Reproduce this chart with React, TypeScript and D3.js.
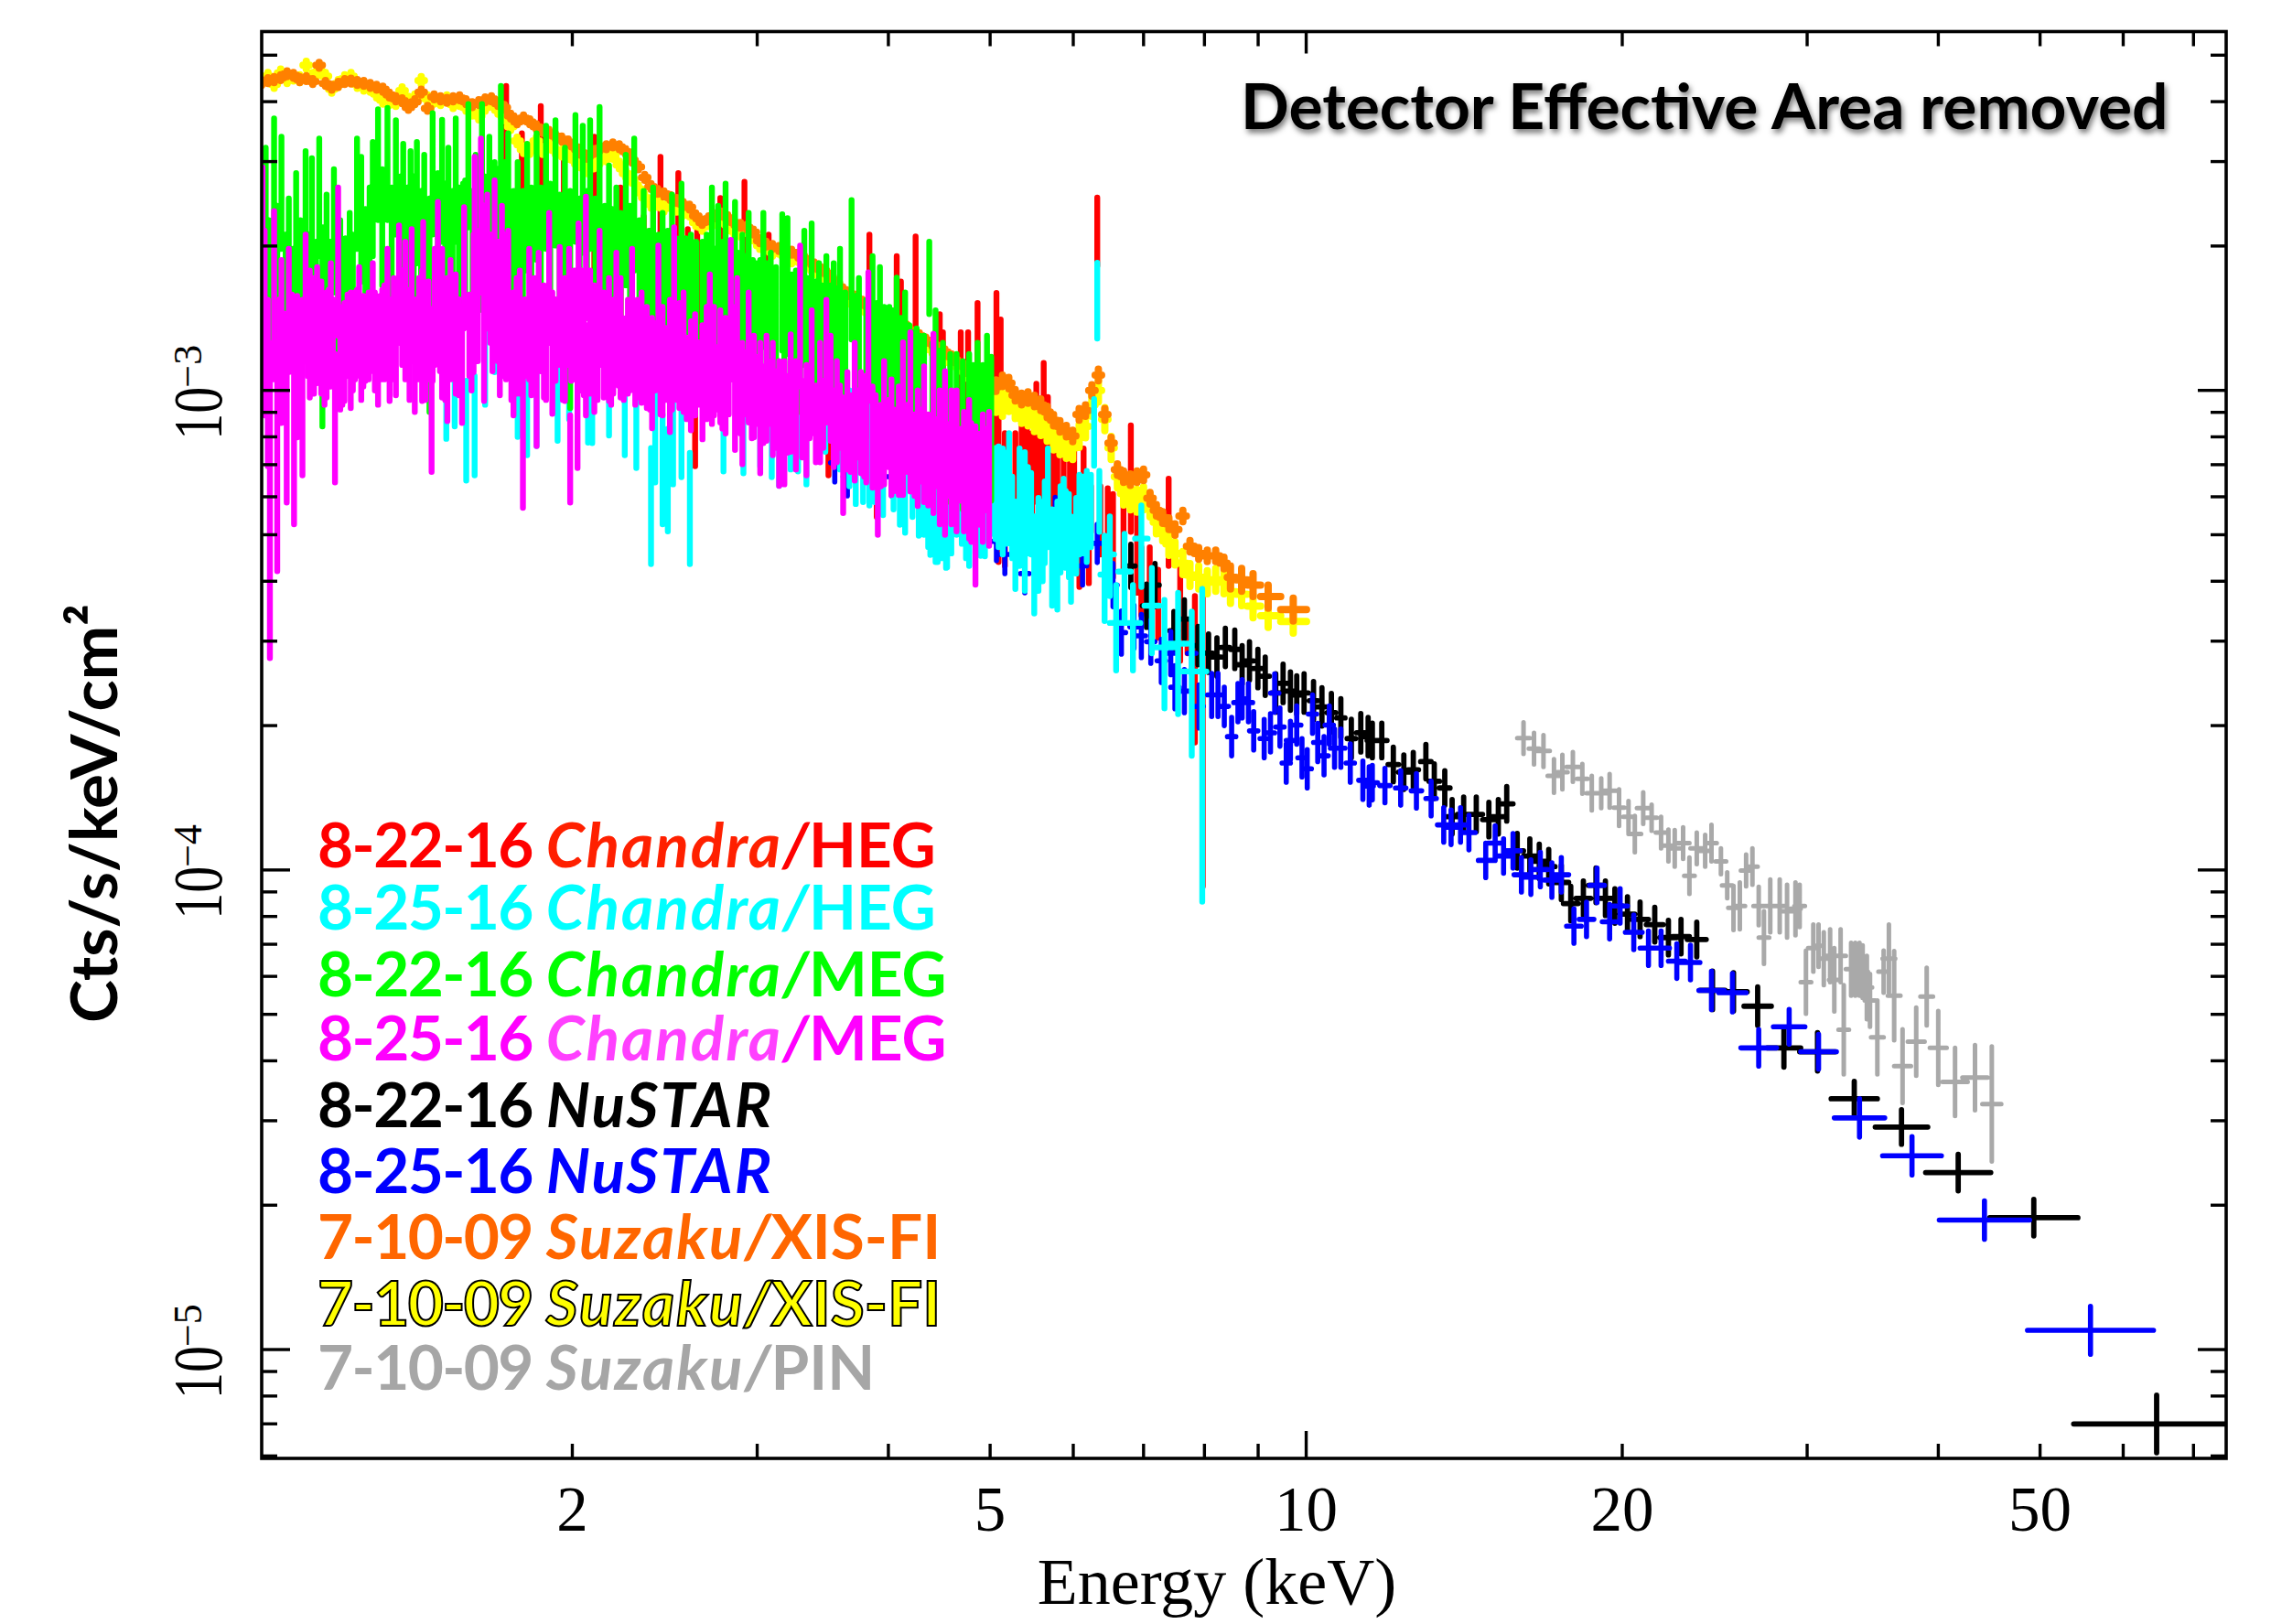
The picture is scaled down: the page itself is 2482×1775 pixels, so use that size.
import React from "react";
import * as d3 from "d3";

// All fluxes are log10(Cts/s/keV/cm2); all energies in the bar tables are log10(keV).
// Chandra bars: [log10 E, log10 flux upper, log10 flux lower]
type Bar = [number, number, number];
const megGreen: Bar[] = [
[.006,-2.539,-2.901],[.009,-2.494,-2.735],[.012,-2.645,-2.958],[.017,-2.433,-2.675],[.020,-2.615,-2.886],[.024,-2.471,-2.705],[.028,-2.675,-2.917],[.031,-2.600,-2.826],[.035,-2.705,-2.939],[.038,-2.547,-2.811],[.042,-2.645,-2.901],[.047,-2.501,-2.743],[.050,-2.675,-2.924],[.053,-2.516,-2.766],[.057,-2.690,-2.939],[.060,-2.475,-2.720],[.063,-2.660,-3.075],[.067,-2.592,-2.841],[.070,-2.690,-2.947],[.074,-2.539,-2.796],[.078,-2.705,-2.947],[.080,-2.645,-2.901],[.085,-2.683,-2.917],[.089,-2.630,-2.871],[.092,-2.675,-2.924],[.096,-2.475,-2.705],[.100,-2.513,-2.773],[.104,-2.622,-2.864],[.108,-2.577,-2.818],[.111,-2.482,-2.720],[.116,-2.414,-2.645],[.120,-2.539,-2.781],[.125,-2.411,-2.645],[.129,-2.577,-2.826],[.133,-2.437,-2.675],[.137,-2.554,-2.811],[.140,-2.486,-2.735],[.144,-2.577,-2.826],[.147,-2.501,-2.750],[.150,-2.554,-2.803],[.153,-2.482,-2.735],[.157,-2.584,-2.826],[.160,-2.509,-2.766],[.165,-2.600,-3.045],[.168,-2.422,-2.675],[.173,-2.547,-2.811],[.177,-2.436,-2.690],[.180,-2.569,-2.826],[.183,-2.494,-2.750],[.187,-2.584,-2.841],[.190,-2.433,-2.690],[.193,-2.577,-2.833],[.197,-2.569,-2.826],[.199,-2.562,-2.818],[.202,-2.403,-2.660],[.206,-2.584,-2.841],[.209,-2.509,-2.766],[.212,-2.577,-2.833],[.215,-2.403,-2.660],[.218,-2.554,-2.811],[.222,-2.471,-2.728],[.227,-2.524,-2.781],[.230,-2.539,-2.811],[.233,-2.365,-2.615],[.237,-2.524,-2.788],[.240,-2.464,-2.720],[.245,-2.584,-2.841],[.249,-2.524,-2.781],[.254,-2.584,-2.841],[.258,-2.486,-2.750],[.262,-2.577,-2.841],[.267,-2.464,-2.728],[.271,-2.577,-2.841],[.276,-2.448,-2.705],[.280,-2.569,-2.826],[.285,-2.437,-2.698],[.289,-2.592,-2.849],[.294,-2.494,-2.758],[.299,-2.584,-3.037],[.304,-2.426,-2.690],[.308,-2.600,-2.864],[.311,-2.448,-2.713],[.315,-2.584,-2.849],[.318,-2.437,-2.705],[.323,-2.600,-2.864],[.327,-2.409,-2.675],[.332,-2.615,-2.879],[.336,-2.531,-2.796],[.339,-2.622,-2.886],[.343,-2.577,-2.841],[.347,-2.630,-2.901],[.352,-2.509,-2.781],[.356,-2.615,-2.886],[.360,-2.475,-2.750],[.365,-2.645,-2.917],[.369,-2.584,-2.864],[.374,-2.667,-2.947],[.378,-2.577,-2.856],[.383,-2.675,-2.939],[.387,-2.630,-2.909],[.392,-2.667,-2.954],[.396,-2.592,-2.871],[.400,-2.683,-2.962],[.405,-2.569,-2.849],[.409,-2.683,-2.962],[.414,-2.675,-2.954],[.419,-2.690,-2.969],[.425,-2.690,-2.969],[.429,-2.675,-2.954],[.434,-2.577,-2.856],[.437,-2.705,-2.977],[.440,-2.615,-2.886],[.444,-2.690,-2.969],[.447,-2.569,-2.849],[.452,-2.705,-2.977],[.456,-2.607,-2.886],[.459,-2.713,-2.992],[.463,-2.675,-2.947],[.466,-2.720,-2.999],[.469,-2.630,-2.909],[.473,-2.728,-3.007],[.476,-2.735,-3.015],[.480,-2.728,-3.007],[.483,-2.630,-2.909],[.486,-2.735,-3.015],[.490,-2.713,-2.992],[.495,-2.743,-3.022],[.501,-2.633,-2.917],[.503,-2.750,-3.037],[.506,-2.641,-2.924],[.510,-2.758,-3.037],[.514,-2.750,-3.037],[.518,-2.766,-3.045],[.522,-2.667,-2.947],[.525,-2.766,-3.045],[.529,-2.652,-2.939],[.533,-2.773,-3.052],[.536,-2.735,-3.022],[.539,-2.781,-3.060],[.543,-2.720,-3.007],[.547,-2.781,-3.067],[.550,-2.735,-3.022],[.553,-2.788,-3.075],[.556,-2.705,-2.992],[.561,-2.796,-3.082],[.567,-2.603,-2.894],[.571,-2.803,-3.090],[.574,-2.766,-3.052],[.581,-2.811,-3.097],[.587,-2.720,-3.015],[.591,-2.818,-3.105],[.594,-2.743,-3.037],[.598,-2.826,-3.120],[.603,-2.826,-3.120],[.606,-2.833,-3.128],[.610,-2.765,-3.060],[.614,-2.849,-3.143],[.618,-2.796,-3.090],[.622,-2.864,-3.158],[.625,-2.879,-3.173],[.629,-2.871,-3.165],[.632,-2.886,-3.181],[.636,-2.886,-3.188],[.641,-2.690,-2.841],[.644,-2.901,-3.203],[.647,-2.833,-3.128],[.651,-2.917,-3.218],[.654,-2.901,-3.203],[.661,-2.924,-3.233],[.667,-2.924,-3.233],[.673,-2.939,-3.248],[.679,-2.924,-3.233],[.683,-2.947,-3.248],[.687,-2.901,-3.203],[.692,-2.947,-3.248],[.696,-2.886,-3.188],[.700,-2.930,-3.230]];

const megMagenta: Bar[] = [
[.006,-2.535,-2.977],[.008,-2.667,-3.052],[.011,-2.811,-3.158],[.013,-2.901,-3.558],[.017,-2.626,-2.977],[.020,-2.901,-3.377],[.024,-2.728,-3.068],[.029,-2.901,-3.234],[.031,-2.705,-2.962],[.036,-2.826,-3.279],[.039,-2.803,-3.098],[.044,-2.811,-3.177],[.047,-2.675,-2.939],[.051,-2.750,-3.015],[.055,-2.766,-3.007],[.058,-2.743,-2.985],[.062,-2.773,-3.007],[.067,-2.796,-3.015],[.071,-2.735,-2.992],[.075,-2.924,-3.192],[.078,-2.577,-2.886],[.082,-2.826,-3.030],[.084,-2.818,-3.022],[.090,-2.796,-3.037],[.094,-2.796,-2.977],[.098,-2.743,-2.969],[.102,-2.803,-2.992],[.107,-2.796,-2.977],[.111,-2.735,-2.954],[.113,-2.796,-3.000],[.118,-2.803,-2.977],[.122,-2.781,-2.977],[.125,-2.705,-2.947],[.127,-2.818,-3.022],[.131,-2.766,-2.977],[.136,-2.656,-2.901],[.139,-2.750,-2.947],[.142,-2.690,-2.977],[.148,-2.664,-2.939],[.151,-2.811,-3.045],[.155,-2.766,-2.977],[.158,-2.750,-3.022],[.159,-2.649,-2.894],[.164,-2.773,-2.977],[.167,-2.939,-3.170],[.170,-2.705,-2.947],[.173,-2.607,-2.864],[.177,-2.705,-3.015],[.182,-2.766,-3.064],[.185,-2.728,-2.977],[.190,-2.758,-3.007],[.196,-2.826,-3.068],[.198,-2.618,-2.871],[.208,-2.513,-2.826],[.207,-2.675,-2.962],[.211,-2.668,-2.939],[.214,-2.475,-2.796],[.217,-2.615,-3.022],[.220,-2.592,-2.871],[.223,-2.675,-2.901],[.227,-2.562,-2.856],[.230,-2.690,-2.939],[.234,-2.615,-2.886],[.238,-2.675,-2.977],[.240,-2.667,-2.939],[.245,-2.796,-3.052],[.248,-2.766,-3.007],[.251,-2.750,-3.007],[.254,-2.977,-3.245],[.260,-2.705,-2.977],[.265,-2.766,-3.007],[.267,-2.826,-3.116],[.269,-2.713,-2.947],[.274,-2.781,-3.015],[.279,-2.630,-2.901],[.282,-2.796,-3.049],[.289,-2.701,-2.947],[.294,-2.766,-3.022],[.298,-2.705,-2.947],[.299,-3.052,-3.234],[.303,-2.750,-2.977],[.306,-2.901,-3.162],[.307,-2.652,-2.901],[.310,-2.750,-3.000],[.314,-2.596,-2.849],[.314,-2.864,-3.052],[.318,-2.750,-3.007],[.322,-2.781,-3.045],[.327,-2.667,-2.947],[.331,-2.796,-3.015],[.336,-2.766,-3.022],[.340,-2.811,-3.007],[.343,-2.713,-2.947],[.347,-2.766,-3.015],[.354,-2.811,-3.007],[.358,-2.705,-2.977],[.363,-2.811,-3.015],[.367,-2.796,-3.026],[.372,-2.826,-3.037],[.377,-2.849,-3.079],[.383,-2.698,-2.977],[.387,-2.826,-3.052],[.394,-2.811,-3.087],[.398,-2.660,-2.932],[.403,-2.818,-3.037],[.407,-2.796,-3.045],[.414,-2.856,-3.083],[.418,-2.841,-3.052],[.425,-2.864,-3.102],[.429,-2.826,-3.060],[.432,-2.758,-3.007],[.436,-2.826,-3.052],[.442,-2.833,-3.067],[.447,-2.849,-3.090],[.452,-2.686,-2.977],[.456,-2.826,-3.124],[.458,-2.766,-3.037],[.463,-2.901,-3.154],[.469,-2.796,-3.067],[.474,-2.886,-3.098],[.480,-2.901,-3.173],[.486,-2.886,-3.105],[.492,-2.901,-3.135],[.498,-2.939,-3.199],[.503,-2.939,-3.196],[.509,-2.883,-3.128],[.514,-2.939,-3.165],[.518,-2.698,-2.992],[.524,-2.947,-3.177],[.529,-2.833,-3.090],[.537,-2.901,-3.150],[.543,-2.811,-3.067],[.547,-2.886,-3.105],[.553,-2.939,-3.150],[.559,-3.015,-3.256],[.563,-2.962,-3.165],[.570,-2.901,-3.188],[.576,-2.962,-3.173],[.581,-2.969,-3.192],[.583,-2.754,-3.022],[.587,-2.992,-3.203],[.592,-3.052,-3.301],[.598,-2.939,-3.196],[.605,-2.977,-3.218],[.612,-2.992,-3.218],[.616,-2.900,-3.218],[.623,-2.879,-3.211],[.630,-3.000,-3.241],[.636,-2.950,-3.233],[.645,-2.882,-3.256],[.651,-3.000,-3.279],[.656,-2.960,-3.301],[.662,-3.000,-3.279],[.667,-3.000,-3.294],[.674,-3.045,-3.294],[.679,-3.020,-3.309],[.681,-3.068,-3.316],[.685,-3.075,-3.405],[.692,-3.050,-3.316],[.698,-3.045,-3.324]];

// Densely overlapping bars that make up the solid core of the 8-25-16 MEG band
const megMagentaCore: Bar[] = [
[.010,-2.83,-3.00],[.022,-2.81,-2.98],[.027,-2.84,-3.02],[.034,-2.80,-2.96],[.041,-2.82,-3.01],[.049,-2.79,-2.97],[.053,-2.83,-3.00],[.060,-2.80,-2.95],[.065,-2.82,-3.03],[.069,-2.79,-2.98],[.073,-2.81,-2.96],[.080,-2.83,-3.04],[.087,-2.80,-2.97],[.092,-2.82,-3.00],[.096,-2.79,-2.95],[.100,-2.81,-3.02],[.104,-2.83,-2.98],[.109,-2.80,-2.96],[.116,-2.82,-3.03],[.120,-2.79,-2.97],[.129,-2.81,-2.95],[.133,-2.80,-3.01],[.144,-2.82,-2.97],[.146,-2.79,-3.02],[.153,-2.81,-2.96],[.161,-2.80,-3.02],[.168,-2.83,-2.98],[.175,-2.80,-2.96],[.180,-2.82,-3.02],[.187,-2.79,-2.97],[.193,-2.81,-3.01],[.203,-2.80,-2.97],[.205,-2.82,-3.00],[.225,-2.81,-2.96],[.232,-2.80,-3.01],[.236,-2.82,-2.97],[.243,-2.80,-3.02],[.256,-2.81,-2.97],[.262,-2.82,-3.01],[.271,-2.81,-2.96],[.276,-2.83,-3.02],[.285,-2.81,-2.98],[.292,-2.84,-3.02],[.300,-2.82,-2.98],[.312,-2.82,-3.01],[.320,-2.83,-2.97],[.325,-2.84,-3.02],[.333,-2.82,-2.98],[.338,-2.85,-3.03],[.345,-2.83,-2.99],[.350,-2.85,-3.02],[.356,-2.84,-3.00],[.361,-2.86,-3.03],[.369,-2.85,-3.01],[.375,-2.87,-3.04],[.380,-2.86,-3.00],[.385,-2.88,-3.05],[.390,-2.87,-3.02],[.396,-2.89,-3.04],[.401,-2.88,-3.02],[.410,-2.89,-3.06],[.421,-2.90,-3.03],[.434,-2.90,-3.07],[.439,-2.91,-3.04],[.444,-2.92,-3.08],[.450,-2.91,-3.05],[.461,-2.93,-3.09],[.466,-2.92,-3.05],[.472,-2.94,-3.10],[.478,-2.93,-3.07],[.483,-2.95,-3.11],[.489,-2.94,-3.07],[.495,-2.96,-3.12],[.501,-2.95,-3.09],[.506,-2.97,-3.13],[.512,-2.96,-3.09],[.520,-2.98,-3.14],[.527,-2.97,-3.10],[.533,-2.99,-3.15],[.540,-2.98,-3.12],[.550,-3.00,-3.16],[.556,-2.99,-3.12],[.566,-3.01,-3.17],[.573,-3.00,-3.14],[.579,-3.02,-3.18],[.590,-3.01,-3.15],[.595,-3.03,-3.20],[.602,-3.02,-3.16],[.608,-3.04,-3.21],[.620,-3.03,-3.17],[.627,-3.05,-3.22],[.633,-3.04,-3.19],[.640,-3.05,-3.24],[.648,-3.06,-3.20],[.654,-3.05,-3.25],[.660,-3.07,-3.22],[.665,-3.06,-3.26],[.671,-3.08,-3.23],[.677,-3.07,-3.27],[.683,-3.08,-3.24],[.689,-3.09,-3.28],[.695,-3.08,-3.25]];

const hegRed: Bar[] = [
[.238,-2.365,-2.64],[.253,-2.464,-2.76],[.271,-2.407,-2.70],[.293,-2.509,-2.80],[.322,-2.471,-2.78],[.347,-2.577,-2.85],[.369,-2.637,-2.90],[.385,-2.513,-2.82],[.402,-2.547,-2.84],[.411,-2.664,-2.95],[.418,-2.900,-3.158],[.420,-2.667,-2.93],[.442,-2.599,-2.89],[.465,-2.565,-2.87],[.488,-2.675,-2.98],[.516,-2.750,-3.03],[.545,-2.950,-3.177],[.551,-2.864,-3.14],[.584,-2.675,-2.96],[.591,-3.000,-3.264],[.610,-2.720,-3.02],[.614,-2.773,-3.07],[.628,-2.679,-2.95],[.651,-2.841,-3.10],[.654,-2.879,-3.14],[.671,-2.879,-3.15],[.678,-2.879,-3.17],[.687,-2.818,-3.12],[.705,-2.797,-3.05],
[.703,-3.058,-3.279],[.707,-3.042,-3.358],[.709,-2.852,-3.05],[.713,-3.089,-3.366],[.717,-3.097,-3.295],[.723,-3.089,-3.342],[.729,-3.058,-3.295],[.734,-3.066,-3.327],[.739,-3.089,-3.263],[.743,-2.986,-3.232],[.748,-3.058,-3.263],[.750,-2.943,-3.200],[.754,-3.014,-3.248],[.759,-3.097,-3.303],[.763,-3.113,-3.295],[.769,-3.113,-3.327],[.775,-3.121,-3.311],[.779,-3.121,-3.374],[.784,-3.224,-3.410],[.788,-3.121,-3.327],[.793,-3.232,-3.402],[.795,-3.200,-3.295],[.801,-2.598,-2.74],[.804,-3.200,-3.342],[.811,-3.204,-3.342],[.816,-3.216,-3.390],[.826,-3.240,-3.374],[.833,-3.073,-3.295],[.839,-3.224,-3.422],[.843,-3.327,-3.469],[.851,-3.327,-3.485],[.859,-3.374,-3.516],[.869,-3.184,-3.366],[.880,-3.366,-3.564],[.887,-3.485,-3.548],[.894,-3.429,-3.734],[.9015,-3.414,-4.034]];

const hegCyan: Bar[] = [
[.181,-2.90,-3.101],[.189,-2.88,-3.075],[.200,-2.98,-3.188],[.208,-2.97,-3.177],[.218,-2.85,-3.030],[.227,-2.80,-2.962],[.249,-2.90,-3.097],[.258,-2.94,-3.135],[.267,-2.92,-3.116],[.287,-2.90,-3.105],[.298,-2.88,-3.060],[.316,-2.90,-3.109],[.320,-2.92,-3.110],[.336,-2.88,-3.094],[.351,-2.93,-3.135],[.362,-2.95,-3.162],[.376,-3.12,-3.362],[.380,-2.98,-3.192],[.387,-3.05,-3.279],[.392,-3.08,-3.294],[.397,-2.98,-3.196],[.405,-2.97,-3.181],[.413,-3.13,-3.362],[.445,-2.96,-3.169],[.464,-2.97,-3.173],[.480,-2.95,-3.158],[.491,-2.98,-3.181],[.498,-2.99,-3.199],[.509,-2.96,-3.165],[.516,-2.97,-3.169],[.524,-3.00,-3.196],[.542,-2.93,-3.128],[.556,-2.97,-3.165],[.565,-3.00,-3.20],[.571,-3.03,-3.237],[.578,-3.03,-3.233],[.584,-3.03,-3.24],[.589,-3.03,-3.233],[.597,-3.05,-3.26],[.607,-3.05,-3.248],[.613,-3.09,-3.28],[.618,-3.10,-3.297],[.625,-3.06,-3.264],[.636,-3.10,-3.301],[.642,-3.14,-3.343],[.649,-3.16,-3.358],[.653,-3.14,-3.350],[.658,-3.17,-3.369],[.662,-3.14,-3.340],[.667,-3.10,-3.301],[.672,-3.12,-3.320],[.680,-3.11,-3.309],
[.631,-3.10,-3.303],[.640,-3.13,-3.327],[.647,-3.16,-3.358],[.657,-3.17,-3.370],[.676,-3.15,-3.350],[.679,-3.17,-3.366],[.685,-3.14,-3.340],[.690,-3.15,-3.345],[.694,-3.15,-3.346],[.699,-3.10,-3.30],
[.704,-3.120,-3.310],[.707,-3.117,-3.327],[.711,-3.121,-3.342],[.714,-3.130,-3.320],[.717,-3.089,-3.319],[.720,-3.180,-3.350],[.723,-3.232,-3.414],[.727,-3.121,-3.366],[.732,-3.129,-3.418],[.735,-3.160,-3.340],[.738,-3.172,-3.342],[.741,-3.263,-3.465],[.745,-3.224,-3.418],[.749,-3.232,-3.398],[.751,-3.190,-3.360],[.754,-3.121,-3.327],[.758,-3.248,-3.449],[.763,-3.232,-3.457],[.766,-3.200,-3.380],[.769,-3.184,-3.358],[.771,-3.210,-3.370],[.774,-3.216,-3.390],[.776,-3.263,-3.441],[.781,-3.224,-3.382],[.784,-3.176,-3.342],[.788,-3.180,-3.340],[.791,-3.168,-3.358],[.795,-3.176,-3.327],[.798,-3.018,-3.157],[.801,-2.734,-2.892],[.803,-3.168,-3.295]];
// High-energy HEG 8-25-16 bins with a centre: [log10 E, centre, upper, lower, half width dex]
const hegCyanCross: [number, number, number, number, number][] = [
[.808,-3.384,-3.303,-3.481,.004],[.813,-3.342,-3.263,-3.429,.004],[.819,-3.485,-3.406,-3.584,.006],[.827,-3.378,-3.299,-3.477,.006],[.835,-3.485,-3.406,-3.584,.007],[.843,-3.309,-3.240,-3.410,.006],[.853,-3.449,-3.370,-3.548,.007],[.865,-3.536,-3.437,-3.663,.009],[.878,-3.528,-3.422,-3.675,.009],[.891,-3.586,-3.461,-3.762,.012],[.901,-3.586,-3.414,-4.066,.004]];

// XIS rows: [E keV, XIS orange log10 flux, XIS yellow log10 flux]
const xisRows: [number, number, number][] = [
[1.012,-2.358,-2.352],[1.026,-2.354,-2.345],[1.04,-2.352,-2.362],[1.055,-2.348,-2.338],[1.07,-2.340,-2.352],[1.085,-2.343,-2.347],[1.10,-2.352,-2.350],[1.116,-2.350,-2.322],[1.132,-2.356,-2.345],[1.148,-2.322,-2.335],[1.164,-2.360,-2.345],[1.18,-2.368,-2.372],[1.197,-2.362,-2.360],[1.214,-2.356,-2.350],[1.231,-2.355,-2.345],[1.248,-2.358,-2.362],[1.266,-2.360,-2.368],[1.284,-2.364,-2.370],[1.302,-2.368,-2.382],[1.32,-2.372,-2.395],[1.339,-2.384,-2.398],[1.358,-2.392,-2.400],[1.377,-2.396,-2.375],[1.396,-2.410,-2.395],[1.416,-2.398,-2.390],[1.436,-2.378,-2.354],[1.456,-2.412,-2.392],[1.477,-2.388,-2.395],[1.498,-2.392,-2.398],[1.519,-2.395,-2.392],[1.54,-2.392,-2.404],[1.562,-2.390,-2.400],[1.584,-2.398,-2.410],[1.606,-2.404,-2.420],[1.629,-2.400,-2.428],[1.652,-2.394,-2.410],[1.675,-2.392,-2.400],[1.699,-2.402,-2.416],[1.723,-2.410,-2.430],[1.747,-2.428,-2.450],[1.772,-2.440,-2.480],[1.797,-2.432,-2.498],[1.822,-2.440,-2.500],[1.848,-2.450,-2.480],[1.874,-2.458,-2.500],[1.9,-2.462,-2.490],[1.927,-2.470,-2.500],[1.954,-2.476,-2.505],[1.982,-2.482,-2.510],[2.01,-2.492,-2.520],[2.038,-2.504,-2.528],[2.067,-2.512,-2.540],[2.096,-2.502,-2.530],[2.125,-2.495,-2.520],[2.155,-2.492,-2.515],[2.186,-2.488,-2.510],[2.217,-2.492,-2.530],[2.248,-2.502,-2.548],[2.28,-2.520,-2.560],[2.312,-2.534,-2.580],[2.344,-2.556,-2.598],[2.377,-2.575,-2.612],[2.411,-2.585,-2.610],[2.445,-2.590,-2.620],[2.479,-2.598,-2.612],[2.514,-2.604,-2.620],[2.55,-2.612,-2.628],[2.586,-2.618,-2.630],[2.622,-2.636,-2.650],[2.659,-2.650,-2.660],[2.697,-2.642,-2.650],[2.735,-2.636,-2.648],[2.773,-2.632,-2.640],[2.812,-2.640,-2.655],[2.852,-2.650,-2.668],[2.892,-2.656,-2.672],[2.933,-2.660,-2.665],[2.975,-2.670,-2.680],[3.017,-2.688,-2.698],[3.059,-2.695,-2.700],[3.102,-2.700,-2.712],[3.146,-2.704,-2.708],[3.19,-2.708,-2.720],[3.235,-2.712,-2.728],[3.281,-2.718,-2.725],[3.327,-2.725,-2.735],[3.374,-2.732,-2.742],[3.422,-2.742,-2.752],[3.47,-2.750,-2.760],[3.519,-2.762,-2.780],[3.569,-2.776,-2.790],[3.619,-2.790,-2.800],[3.67,-2.798,-2.812],[3.722,-2.806,-2.815],[3.774,-2.816,-2.825],[3.827,-2.824,-2.838],[3.881,-2.830,-2.842],[3.936,-2.836,-2.850],[3.992,-2.846,-2.855],[4.048,-2.850,-2.862],[4.105,-2.858,-2.870],[4.163,-2.868,-2.880],[4.222,-2.880,-2.890],[4.281,-2.886,-2.896],[4.342,-2.895,-2.905],[4.403,-2.902,-2.915],[4.465,-2.912,-2.920],[4.528,-2.920,-2.930],[4.592,-2.930,-2.942],[4.657,-2.942,-2.950],[4.722,-2.950,-2.960],[4.789,-2.965,-2.975],[4.857,-2.980,-2.992],[4.925,-2.996,-3.005],[4.995,-3.002,-3.015],[5.065,-2.990,-3.022],[5.137,-2.980,-3.030],[5.209,-2.985,-3.020],[5.283,-3.010,-3.035],[5.357,-3.018,-3.045],[5.433,-3.015,-3.050],[5.51,-3.022,-3.062],[5.587,-3.030,-3.070],[5.666,-3.045,-3.082],[5.746,-3.062,-3.100],[5.827,-3.075,-3.110],[5.91,-3.085,-3.118],[5.993,-3.095,-3.120],[6.078,-3.050,-3.095],[6.163,-3.042,-3.075],[6.25,-3.000,-3.030],[6.34,-2.968,-3.000],[6.43,-3.050,-3.060],[6.52,-3.110,-3.120],[6.61,-3.165,-3.180],[6.7,-3.180,-3.215],[6.8,-3.186,-3.225],[6.9,-3.180,-3.230],[7.0,-3.176,-3.225],[7.1,-3.225,-3.240],[7.2,-3.250,-3.275],[7.3,-3.265,-3.290],[7.4,-3.278,-3.320],[7.5,-3.290,-3.340],[7.63,-3.262,-3.360],[7.75,-3.325,-3.385],[7.9,-3.340,-3.390],[8.05,-3.345,-3.400],[8.2,-3.345,-3.395],[8.35,-3.360,-3.400],[8.47,-3.390,-3.420],[8.68,-3.395,-3.425],[8.9,-3.406,-3.450],[9.2,-3.430,-3.470],[9.72,-3.457,-3.482]];

// NuSTAR and PIN rows: [log10 E, log10 flux, half width dex, half height dex]
type Cross = [number, number, number, number];
const nustarBlack: Cross[] = [
[.833,-3.366,.004,.045],[.848,-3.449,.004,.045],[.856,-3.406,.004,.045],[.874,-3.501,.004,.04],[.884,-3.477,.004,.04],[.897,-3.532,.004,.04],[.907,-3.548,.004,.04],[.915,-3.556,.004,.04],[.923,-3.536,.004,.04],[.932,-3.540,.004,.04],[.939,-3.572,.004,.04],[.946,-3.564,.004,.04],[.954,-3.580,.004,.04],[.961,-3.596,.004,.04],[.971,-3.631,.004,.04],[.978,-3.611,.004,.04],[.985,-3.627,.004,.04],[.991,-3.635,.004,.04],[.998,-3.631,.004,.04],[1.007,-3.647,.004,.04],[1.015,-3.660,.004,.04],[1.024,-3.672,.004,.04],[1.033,-3.683,.004,.04],[1.043,-3.726,.004,.04],[1.052,-3.714,.004,.04],[1.059,-3.722,.004,.04],[1.063,-3.730,.005,.036],[1.072,-3.730,.005,.036],[1.083,-3.780,.005,.036],[1.093,-3.796,.005,.036],[1.102,-3.791,.005,.036],[1.114,-3.774,.005,.036],[1.122,-3.815,.005,.036],[1.132,-3.829,.005,.036],[1.139,-3.889,.005,.036],[1.150,-3.884,.006,.036],[1.162,-3.884,.006,.036],[1.174,-3.895,.006,.036],[1.183,-3.889,.006,.036],[1.191,-3.862,.006,.036],[1.201,-3.960,.006,.036],[1.213,-3.971,.006,.036],[1.222,-3.982,.006,.036],[1.231,-3.993,.006,.036],[1.243,-4.026,.007,.036],[1.252,-4.070,.007,.036],[1.264,-4.059,.007,.036],[1.276,-4.032,.007,.036],[1.285,-4.059,.007,.036],[1.294,-4.075,.007,.036],[1.306,-4.092,.007,.036],[1.318,-4.103,.008,.036],[1.332,-4.114,.008,.036],[1.345,-4.141,.008,.036],[1.357,-4.139,.008,.036],[1.372,-4.145,.009,.036],[1.387,-4.251,.012,.04],[1.407,-4.254,.013,.04],[1.430,-4.284,.013,.04],[1.455,-4.371,.016,.04],[1.487,-4.379,.017,.04],[1.522,-4.477,.022,.036],[1.567,-4.536,.025,.036],[1.621,-4.631,.031,.038],[1.693,-4.725,.042,.038],[1.810,-5.155,.079,.06]];
const nustarBlue: Cross[] = [
[.551,-3.151,.004,.04],[.563,-3.18,.004,.04],[.605,-3.18,.004,.04],[.705,-3.315,.004,.04],[.713,-3.342,.004,.04],[.732,-3.382,.004,.04],[.761,-3.263,.004,.04],[.787,-3.366,.004,.04],[.801,-3.319,.004,.04],[.816,-3.406,.004,.045],[.824,-3.505,.004,.045],[.836,-3.493,.004,.045],[.843,-3.512,.004,.045],[.852,-3.524,.004,.045],[.862,-3.564,.004,.045],[.871,-3.548,.004,.045],[.875,-3.619,.004,.045],[.884,-3.627,.004,.045],[.891,-3.548,.004,.045],[.898,-3.659,.004,.045],[.910,-3.635,.004,.045],[.916,-3.635,.004,.045],[.922,-3.659,.004,.04],[.929,-3.722,.004,.04],[.935,-3.651,.004,.04],[.939,-3.643,.004,.04],[.945,-3.651,.004,.04],[.950,-3.710,.004,.04],[.960,-3.726,.004,.04],[.966,-3.714,.004,.04],[.970,-3.631,.004,.04],[.975,-3.702,.004,.04],[.981,-3.777,.004,.04],[.985,-3.730,.004,.04],[.991,-3.698,.004,.04],[.996,-3.766,.004,.04],[1.001,-3.789,.004,.04],[1.006,-3.675,.004,.04],[1.011,-3.734,.004,.04],[1.017,-3.762,.004,.04],[1.022,-3.698,.004,.04],[1.027,-3.746,.004,.04],[1.033,-3.746,.004,.04],[1.042,-3.777,.004,.04],[1.054,-3.813,.004,.04],[1.060,-3.825,.004,.04],[1.063,-3.818,.005,.036],[1.075,-3.824,.005,.036],[1.090,-3.829,.005,.036],[1.105,-3.835,.005,.036],[1.119,-3.851,.005,.036],[1.131,-3.906,.006,.036],[1.138,-3.911,.006,.036],[1.147,-3.906,.006,.036],[1.155,-3.922,.006,.036],[1.171,-3.980,.007,.036],[1.180,-3.944,.007,.036],[1.188,-3.971,.007,.036],[1.197,-3.960,.007,.036],[1.205,-4.010,.007,.036],[1.214,-4.015,.007,.036],[1.223,-3.999,.007,.036],[1.234,-4.021,.007,.036],[1.243,-4.010,.007,.036],[1.255,-4.117,.007,.036],[1.267,-4.103,.007,.036],[1.277,-4.032,.007,.036],[1.289,-4.108,.007,.036],[1.299,-4.075,.007,.036],[1.312,-4.130,.008,.036],[1.326,-4.163,.008,.036],[1.338,-4.163,.008,.036],[1.353,-4.190,.008,.036],[1.366,-4.193,.009,.036],[1.386,-4.251,.012,.04],[1.406,-4.256,.013,.04],[1.431,-4.371,.017,.038],[1.460,-4.327,.015,.036],[1.488,-4.379,.017,.036],[1.527,-4.517,.024,.04],[1.577,-4.596,.028,.04],[1.646,-4.730,.043,.04],[1.747,-4.960,.060,.05]];
const pinGray: Cross[] = [
[1.207,-3.725,.006,.033],[1.217,-3.747,.005,.033],[1.226,-3.752,.006,.033],[1.236,-3.804,.006,.035],[1.244,-3.796,.005,.036],[1.254,-3.785,.006,.031],[1.263,-3.810,.005,.031],[1.272,-3.840,.005,.036],[1.281,-3.840,.005,.031],[1.289,-3.835,.006,.035],[1.298,-3.870,.005,.038],[1.307,-3.889,.005,.033],[1.313,-3.925,.006,.038],[1.321,-3.871,.006,.033],[1.329,-3.891,.005,.027],[1.338,-3.922,.005,.033],[1.345,-3.949,.005,.033],[1.351,-3.955,.005,.038],[1.359,-3.944,.006,.033],[1.365,-4.012,.005,.038],[1.372,-3.955,.006,.033],[1.380,-3.960,.005,.033],[1.386,-3.944,.005,.038],[1.395,-3.982,.005,.027],[1.401,-4.032,.005,.027],[1.407,-4.079,.005,.046],[1.413,-4.075,.005,.049],[1.419,-4.001,.005,.033],[1.425,-3.993,.005,.038],[1.431,-4.075,.005,.04],[1.436,-4.141,.005,.055],[1.442,-4.075,.005,.055],[1.451,-4.075,.005,.055],[1.458,-4.086,.005,.055],[1.466,-4.081,.005,.055],[1.470,-4.075,.005,.044],[1.476,-4.234,.005,.066],[1.483,-4.163,.005,.049],[1.488,-4.158,.005,.044],[1.493,-4.185,.005,.055],[1.499,-4.179,.005,.055],[1.503,-4.229,.005,.066],[1.509,-4.179,.005,.055],[1.512,-4.333,.005,.093],[1.519,-4.207,.005,.055],[1.523,-4.207,.005,.055],[1.527,-4.207,.005,.055],[1.530,-4.212,.005,.055],[1.534,-4.245,.005,.066],[1.537,-4.272,.005,.055],[1.544,-4.349,.006,.077],[1.550,-4.212,.005,.044],[1.555,-4.185,.006,.071],[1.560,-4.262,.006,.093],[1.568,-4.409,.008,.077],[1.581,-4.358,.008,.071],[1.591,-4.264,.006,.060],[1.602,-4.371,.008,.077],[1.618,-4.442,.012,.071],[1.637,-4.433,.012,.068],[1.653,-4.488,.009,.120]];

// Ticks and labels
const xMinorTicks = [2,3,4,5,6,7,8,9,20,30,40,50,60,70];
const xMajorTicks = [10];
const xTickLabels = [2,5,10,20,50];
const yMajorExp = [-5,-4,-3];
const yMinorTicks = [6e-6,7e-6,8e-6,9e-6,2e-5,3e-5,4e-5,5e-5,6e-5,7e-5,8e-5,9e-5,2e-4,3e-4,4e-4,5e-4,6e-4,7e-4,8e-4,9e-4,2e-3,3e-3,4e-3,5e-3];
const legendBaselines = [948, 1016, 1089, 1159, 1232, 1304, 1376, 1449, 1519];
const legendRows = [
  { date: "8-22-16", mission: "Chandra", inst: "HEG", color: "#ff0000", ital: "#ff2000" },
  { date: "8-25-16", mission: "Chandra", inst: "HEG", color: "#00ffff", ital: "#00ffff" },
  { date: "8-22-16", mission: "Chandra", inst: "MEG", color: "#00ff00", ital: "#00ff00" },
  { date: "8-25-16", mission: "Chandra", inst: "MEG", color: "#ff00ff", ital: "#ff40ff" },
  { date: "8-22-16", mission: "NuSTAR", inst: "", color: "#000000", ital: "#000000" },
  { date: "8-25-16", mission: "NuSTAR", inst: "", color: "#0000ff", ital: "#0000ff" },
  { date: "7-10-09", mission: "Suzaku", inst: "XIS-FI", color: "#ff6600", ital: "#ff6600" },
  { date: "7-10-09", mission: "Suzaku", inst: "XIS-FI", color: "#ffff00", ital: "#ffff00", outline: true },
  { date: "7-10-09", mission: "Suzaku", inst: "PIN", color: "#a6a6a6", ital: "#a6a6a6" },
];

const W = 2482, H = 1775;
const L = 286, R = 2433, T = 34.5, B = 1594;
const x = d3.scaleLog().domain([1.012, 75.2]).range([L, R]);
const y = d3.scaleLog().domain([5.93e-6, 5.6e-3]).range([B, T]);
const X = (logE: number) => x(Math.pow(10, logE));
const Y = (logF: number) => y(Math.pow(10, logF));

const barsPath = (rows: Bar[]) => rows.map(([e, hi, lo]) => `M${X(e)},${Y(hi)}L${X(e)},${Y(lo)}`).join("");
const crossPath = (rows: Cross[]) => rows.map(([e, f, dx, dy]) =>
  `M${X(e)},${Y(f + dy)}L${X(e)},${Y(f - dy)}M${X(e - dx)},${Y(f)}L${X(e + dx)},${Y(f)}`).join("");
const cyanCrossPath = () => hegCyanCross.map(([e, c, hi, lo, dx]) =>
  `M${X(e)},${Y(hi)}L${X(e)},${Y(lo)}M${X(e - dx)},${Y(c)}L${X(e + dx)},${Y(c)}`).join("");
const xisPath = (col: 1 | 2, err: (E: number) => number) => xisRows.map((r, i) => {
  const E = r[0], f = r[col];
  const p = i > 0 ? xisRows[i - 1][0] : E, n = i < xisRows.length - 1 ? xisRows[i + 1][0] : E * 1.06;
  const e = err(E);
  return `M${x(E)},${Y(f + e)}L${x(E)},${Y(f - e)}M${x(Math.sqrt(p * E))},${Y(f)}L${x(Math.sqrt(n * E))},${Y(f)}`;
}).join("");

const LEGEND_FONT = "Lato, 'Open Sans', sans-serif";
const SERIF = "'Liberation Serif', serif";

function YLabel({ exp }: { exp: number }) {
  const ty = y(Math.pow(10, exp));
  return (
    <g fill="#000" fontFamily={SERIF}>
      <text transform={`translate(242,${ty + 54}) rotate(-90) scale(1,1.3)`} fontSize={58}>10</text>
      <text transform={`translate(220,${ty - 3}) rotate(-90)`} fontSize={44}>{"\u2212" + Math.abs(exp)}</text>
    </g>
  );
}

export default function App() {
  return (
    <svg width={W} height={H} viewBox={`0 0 ${W} ${H}`} style={{ position: "absolute", left: 0, top: 0, background: "#fff" }}>
      <defs>
        <clipPath id="plot"><rect x={L} y={T} width={R - L} height={B - T} /></clipPath>
        <filter id="shadow" x="-5%" y="-20%" width="110%" height="150%">
          <feDropShadow dx={2} dy={4} stdDeviation={3} floodColor="#000" floodOpacity={0.55} />
        </filter>
      </defs>
      <g clipPath="url(#plot)" fill="none" strokeLinecap="round">
        <path d={crossPath(pinGray)} stroke="#a9a9a9" strokeWidth={5} />
        <path d={barsPath(hegRed)} stroke="#ff0000" strokeWidth={6.4} />
        <path d={crossPath(nustarBlack)} stroke="#000" strokeWidth={5.8} />
        <path d={crossPath(nustarBlue)} stroke="#0000ff" strokeWidth={5.6} />
        <path d={xisPath(2, (E) => (E > 5 ? 0.024 : 0.008))} stroke="#ffff00" strokeWidth={8} />
        <path d={xisPath(1, (E) => (E > 8.4 ? 0.024 : E > 5 ? 0.012 : 0.006))} stroke="#ff8000" strokeWidth={8} />
        <path d={barsPath(hegCyan)} stroke="#00ffff" strokeWidth={6.4} />
        <path d={cyanCrossPath()} stroke="#00ffff" strokeWidth={6.4} />
        <path d={barsPath(megGreen)} stroke="#00ff00" strokeWidth={6.4} />
        <path d={barsPath(megMagentaCore)} stroke="#ff00ff" strokeWidth={6.4} />
        <path d={barsPath(megMagenta)} stroke="#ff00ff" strokeWidth={6.4} />
      </g>

      {/* frame and ticks */}
      <rect x={L} y={T} width={R - L} height={B - T} fill="none" stroke="#000" strokeWidth={3.6} />
      <g stroke="#000" strokeWidth={3.4}>
        {xMinorTicks.map((t) => (
          <g key={t}>
            <line x1={x(t)} x2={x(t)} y1={B} y2={B - 16} />
            <line x1={x(t)} x2={x(t)} y1={T} y2={T + 16} />
          </g>
        ))}
        {xMajorTicks.map((t) => (
          <g key={t}>
            <line x1={x(t)} x2={x(t)} y1={B} y2={B - 30} />
            <line x1={x(t)} x2={x(t)} y1={T} y2={T + 24} />
          </g>
        ))}
        {yMinorTicks.map((t) => (
          <g key={t}>
            <line x1={L} x2={L + 17} y1={y(t)} y2={y(t)} />
            <line x1={R} x2={R - 17} y1={y(t)} y2={y(t)} />
          </g>
        ))}
        {yMajorExp.map((e) => (
          <g key={e}>
            <line x1={L} x2={L + 31} y1={y(Math.pow(10, e))} y2={y(Math.pow(10, e))} />
            <line x1={R} x2={R - 31} y1={y(Math.pow(10, e))} y2={y(Math.pow(10, e))} />
          </g>
        ))}
      </g>

      {/* axis labels */}
      {xTickLabels.map((t) => (
        <text key={t} x={x(t)} y={1673} textAnchor="middle" fontFamily={SERIF} fontSize={69} fill="#000">{t}</text>
      ))}
      {yMajorExp.map((e) => <YLabel key={e} exp={e} />)}
      <text x={1330} y={1753} textAnchor="middle" fontFamily={SERIF} fontSize={72} fill="#000">Energy (keV)</text>
      <text transform="translate(128,1118) rotate(-90)" fontFamily={LEGEND_FONT} fontWeight={700} fontSize={71} fill="#000">Cts/s/keV/cm²</text>

      <text x={1356} y={141} fontFamily={LEGEND_FONT} fontWeight={700} fontSize={69.5} fill="#000" filter="url(#shadow)">Detector Effective Area removed</text>

      {/* legend */}
      {legendRows.map((r, i) => {
        const o = r.outline ? { stroke: "#000", strokeWidth: 2 } : {};
        return (
          <text key={i} x={347} y={legendBaselines[i]} fontFamily={LEGEND_FONT} fontWeight={700} fontSize={67.5} {...o}>
            <tspan fill={r.color} letterSpacing={-1.6}>{r.date} </tspan>
            <tspan fill={r.ital} fontStyle="italic" letterSpacing={2}>{r.mission}</tspan>
            {r.inst ? <tspan fill={r.color} fontStyle="italic">/</tspan> : null}
            {r.inst ? <tspan fill={r.color}>{r.inst}</tspan> : null}
          </text>
        );
      })}
    </svg>
  );
}
